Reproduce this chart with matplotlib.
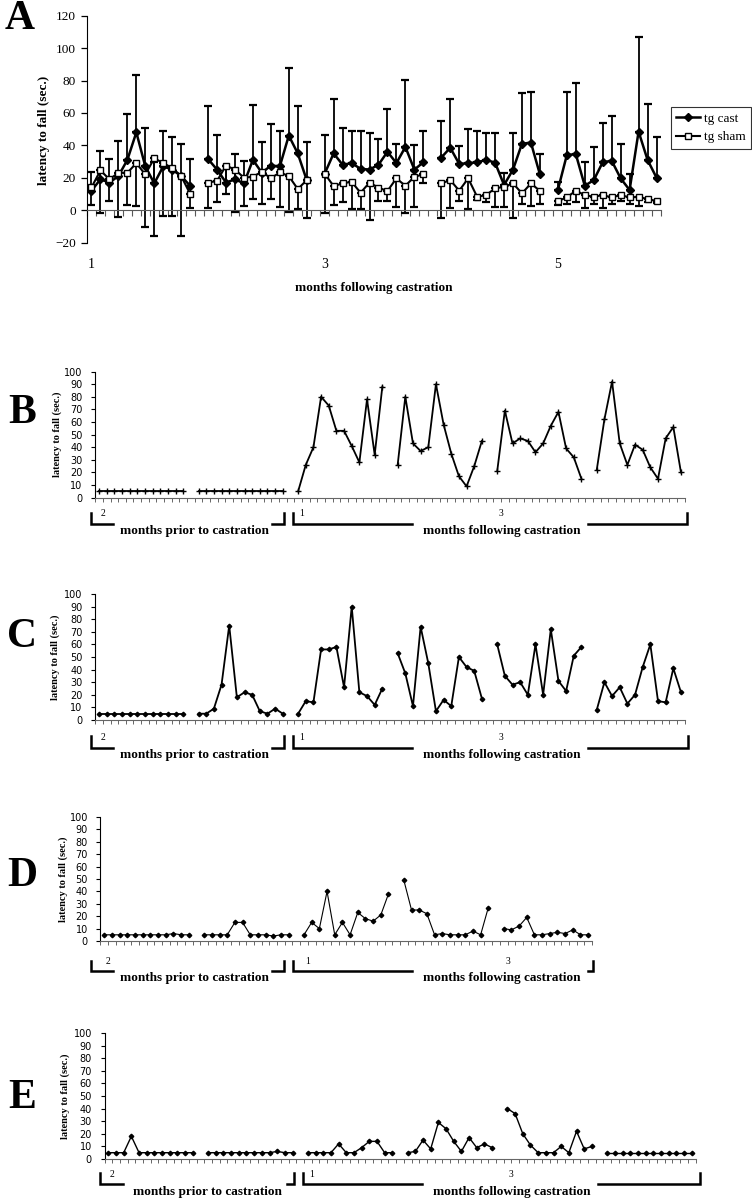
import numpy as np
import matplotlib
matplotlib.use('Agg')
import matplotlib.pyplot as plt
import matplotlib.transforms as mtransforms
from matplotlib.lines import Line2D

plt.rcParams['font.family'] = ['Liberation Serif', 'DejaVu Serif']

# ---- panel A: group means, 5 monthly blocks of 12 sessions ----
a_month_labels = ['1', '3', '5']
a_cast = [
    [12, 19, 17, 21, 31, 48, 27, 16.5, 27, 25, 21, 15],
    [31.5, 25, 17, 19, 16.5, 31, 23, 27.5, 27, 46, 35, 18.5],
    [22.5, 35, 28, 29, 25.5, 25, 28, 36, 29, 39, 25, 29.5],
    [32.4, 38.5, 28.5, 29, 29.5, 31, 29.3, 15.5, 25, 41, 41.6, 22],
    [12.4, 34, 34.6, 15, 18.5, 29.5, 30.5, 19.6, 12.4, 48.5, 31, 20],
]
a_cast_err = [
    [11.7, 17.7, 14.5, 21.7, 28.4, 35.5, 23.5, 13.5, 21.9, 20.4, 20, 16.5],
    [32.5, 21.4, 10, 15.6, 14, 34, 19.3, 25.5, 22, 42, 29.3, 23.5],
    [23.9, 33.5, 22.5, 20, 23.5, 22.8, 15.7, 26.5, 12, 41.4, 15, 19.5],
    [22.9, 30, 11.3, 21, 19.5, 16.4, 18.1, 7.2, 22.4, 31, 31.2, 12.4],
    [5.1, 38.6, 43.8, 14.5, 20.5, 24.5, 27.5, 21.4, 9.6, 58.1, 34.6, 25.4],
]
a_sham = [
    [14, 24.5, 19, 23, 23, 29, 22, 32, 29, 26, 21, 10],
    [17, 18, 27.5, 25, 20, 20.6, 23.7, 19.6, 23.3, 21, 13, 18.5],
    [22.5, 14.8, 16.5, 17.5, 10.7, 17, 13.8, 11.8, 19.6, 15, 20.6, 22],
    [16.5, 18.5, 12, 19.6, 8.2, 9.3, 13.4, 14.4, 16.5, 10.3, 16.5, 11.8],
    [5.6, 7.8, 12, 9.3, 8.2, 9.3, 7.8, 9.3, 7.8, 8.2, 6.8, 5.6],
]
a_sham_err = [
    [11, 26.5, 13.4, 27, 20, 26.3, 32.7, 48, 32.5, 29.5, 37, 8.6],
    [15.4, 13, 17.5, 26, 17.3, 13.8, 19.7, 12.8, 21.3, 22.4, 12.6, 23.5],
    [24.5, 11.8, 11.8, 17.1, 10.3, 23, 8.2, 6.2, 17.6, 17, 18.6, 5.5],
    [21.5, 17.1, 6.4, 19.2, 2.2, 4.3, 11.4, 12.4, 21.2, 6.3, 13.8, 7.8],
    [2.6, 4.1, 7, 7.7, 4.5, 7.7, 4.1, 3.5, 4.1, 5.5, 1.8, 1.1],
]

# ---- panels B-E: single mice, 2 blocks before and 3-4 blocks after castration ----
b_pre = [[5, 5, 5, 5, 5, 5, 5, 5, 5, 5, 5, 5],
         [5, 5, 5, 5, 5, 5, 5, 5, 5, 5, 5, 5]]
b_post = [[5, 26, 40, 80, 73, 53, 53, 41, 28, 78, 34, 88],
          [26, 80, 43, 37, 40, 90, 58, 35, 17, 9, 25, 45],
          [21, 69, 43, 47, 45, 36, 43, 57, 68, 39, 32, 15],
          [22, 62, 92, 43, 26, 42, 38, 24, 15, 47, 56, 20]]

c_pre = [[5, 5, 5, 5, 5, 5, 5, 5, 5, 5, 5, 5],
         [5, 5, 9, 28, 75, 18, 22, 20, 7, 5, 9, 5]]
c_post = [[5, 15, 14, 56, 56, 58, 26, 90, 22, 19, 12, 25],
          [53, 37, 11, 74, 45, 7, 16, 11, 50, 42, 39, 17],
          [60, 35, 28, 30, 20, 60, 20, 72, 31, 23, 51, 58],
          [8, 30, 19, 26, 13, 20, 42, 60, 15, 14, 41, 22]]

d_pre = [[5, 5, 5, 5, 5, 5, 5, 5, 5, 6, 5, 5],
         [5, 5, 5, 5, 15, 15, 5, 5, 5, 4, 5, 5]]
d_post = [[5, 15, 10, 40, 5, 15, 5, 23, 18, 16, 21, 38],
          [49, 25, 25, 22, 5, 6, 5, 5, 5, 8, 5, 27],
          [10, 9, 12, 19, 5, 5, 6, 7, 6, 9, 5, 5]]

e_pre = [[5, 5, 5, 18, 5, 5, 5, 5, 5, 5, 5, 5],
         [5, 5, 5, 5, 5, 5, 5, 5, 5, 6, 5, 5]]
e_post = [[5, 5, 5, 5, 12, 5, 5, 9, 14, 14, 5, 5],
          [5, 6, 15, 8, 29, 24, 14, 6, 17, 9, 12, 9],
          [40, 36, 20, 11, 5, 5, 5, 10, 5, 22, 8, 10],
          [5, 5, 5, 5, 5, 5, 5, 5, 5, 5, 5, 5]]

block_labels = ['2', '1', '3']   # drawn at slot 0, 26, 52
ylab = 'latency to fall (sec.)'

W, H = 752, 1200
BLOCK = 13  # 12 sessions + 1 empty slot


def box(l, t, r, b):
    return [l / W, 1 - b / H, (r - l) / W, (b - t) / H]


fig = plt.figure(figsize=(W / 100, H / 100), dpi=100)

# ---------------- panel A ----------------
axA = fig.add_axes(box(87, 15.7, 661, 242.5))
for k in range(len(a_cast)):
    x = np.arange(len(a_cast[k])) + BLOCK * k
    c = np.array(a_cast[k])
    s = np.array(a_sham[k])
    z = np.zeros(len(x))
    axA.errorbar(x, c, yerr=[z, a_cast_err[k]], fmt='none', ecolor='k',
                 elinewidth=1.3, capsize=3.2, capthick=1.6, zorder=2)
    axA.errorbar(x, s, yerr=[a_sham_err[k], z], fmt='none', ecolor='k',
                 elinewidth=1.3, capsize=3.2, capthick=1.6, zorder=2)
    axA.plot(x, c, '-D', color='k', ms=4.5, lw=1.8, zorder=3)
    axA.plot(x, s, '-s', color='k', mfc='white', mec='k', mew=1, ms=4.8,
             lw=1.5, zorder=4)

nA = BLOCK * len(a_cast) - 1
axA.set_xlim(-0.5, nA - 0.5)
axA.set_ylim(-20, 120)
axA.set_yticks(range(-20, 121, 20))
axA.set_xticks(np.arange(-0.5, nA, 1))
axA.set_xticklabels([])
axA.spines['bottom'].set_position(('data', 0))
axA.spines['bottom'].set_color('0.35')
axA.spines['top'].set_visible(False)
axA.spines['right'].set_visible(False)
axA.tick_params(axis='x', length=4, color='0.35', width=0.8)
axA.tick_params(axis='y', length=4, width=0.9, pad=4, labelsize=9.5)
transA = mtransforms.blended_transform_factory(axA.transData, fig.transFigure)
for i, lab in enumerate(a_month_labels):
    axA.text(2 * BLOCK * i, 1 - 264 / H, lab, transform=transA,
             ha='center', va='center', fontsize=10)
fig.text(374 / W, 1 - 288 / H, 'months following castration',
         ha='center', va='center', fontsize=9.5, fontweight='bold')
fig.text(44 / W, 1 - 130 / H, ylab, rotation=90, ha='center', va='center',
         fontsize=9.5, fontweight='bold')

handles = [Line2D([], [], color='k', marker='D', ms=4.5, lw=1.8),
           Line2D([], [], color='k', marker='s', mfc='white', ms=4.8, lw=1.5)]
leg = fig.legend(handles, ['tg cast', 'tg sham'], loc='upper left',
                 bbox_to_anchor=(671 / W, 1 - 107 / H), frameon=True,
                 fancybox=False, edgecolor='k', fontsize=9.5,
                 handlelength=1.8, handletextpad=0.3, borderpad=0.4,
                 labelspacing=0.5, borderaxespad=0)
leg.get_frame().set_linewidth(0.8)


# ---------------- panels B-E ----------------
def mouse_panel(rect, pre, post, marker, ms, lw):
    ax = fig.add_axes(rect)
    blocks = pre + post
    for k, vals in enumerate(blocks):
        x = np.arange(len(vals)) + BLOCK * k
        ax.plot(x, vals, color='k', lw=lw, marker=marker, ms=ms, mew=1.0)
    n = BLOCK * len(blocks) - 1
    ax.set_xlim(-0.5, n - 0.5)
    ax.set_ylim(0, 100)
    ax.set_yticks(range(0, 101, 10))
    ax.set_xticks(np.arange(-0.5, n, 1))
    ax.set_xticklabels([])
    for sp in ('top', 'right'):
        ax.spines[sp].set_visible(False)
    ax.spines['bottom'].set_color('0.4')
    ax.spines['left'].set_linewidth(0.8)
    ax.tick_params(axis='x', length=3, color='0.4', width=0.7)
    ax.tick_params(axis='y', length=3, width=0.8, pad=6, labelsize=7)
    for t in ax.get_yticklabels():
        t.set_fontfamily('DejaVu Sans')
    return ax


axB = mouse_panel(box(95.2, 371.5, 684.8, 497.7), b_pre, b_post, '+', 4, 1.3)
axC = mouse_panel(box(95.2, 594, 684.8, 720), c_pre, c_post, 'D', 2.3, 1.3)
axD = mouse_panel(box(100.5, 817, 592, 941), d_pre, d_post, 'D', 2.3, 0.8)
axE = mouse_panel(box(104.5, 1033, 695.5, 1159), e_pre, e_post, 'D', 2.3, 1.0)

# overlay in pixel coordinates for letters, labels and brackets
ov = fig.add_axes([0, 0, 1, 1], zorder=10)
ov.set_xlim(0, W)
ov.set_ylim(H, 0)
ov.axis('off')

for letter, (lx, ly) in zip('ABCDE', [(20, 19), (22, 413), (22, 637),
                                      (22, 876), (22, 1098)]):
    ov.text(lx, ly, letter, ha='center', va='center', fontsize=30,
            fontweight='bold')

# (axes, ylabel x, bracket top, bracket line, text y,
#  pre: left, gap start, gap end, right ; post: left, gap start, gap end, right)
panels = [
    (axB, 57, 512.5, 524, 531, (90.5, 113, 272, 283.5), (292.5, 412, 588, 687)),
    (axC, 55, 735.5, 748, 755, (90.5, 113, 272, 283.5), (292.5, 412, 588, 688)),
    (axD, 63, 960.5, 970.5, 978, (90.5, 113, 272, 284), (292.5, 412, 588, 592.7)),
    (axE, 65, 1173, 1184, 1192.5, (100, 123, 287, 293.5), (303, 422, 598, 700)),
]
for ax, yx, ytop, yline, ytext, pre_b, post_b in panels:
    bb = ax.get_position()
    yc = (1 - (bb.y0 + bb.y1) / 2) * H
    ov.text(yx, yc, ylab, rotation=90, ha='center', va='center',
            fontsize=7.5, fontweight='bold')
    for (x0, g0, g1, x1), txt in [(pre_b, 'months prior to castration'),
                                  (post_b, 'months following castration')]:
        ov.plot([x0, x0, g0], [ytop, yline, yline], color='k', lw=1.8,
                solid_joinstyle='miter')
        ov.plot([g1, x1, x1], [yline, yline, ytop], color='k', lw=1.8,
                solid_joinstyle='miter')
        ov.text((g0 + g1) / 2 + 2, ytext, txt, ha='center', va='center',
                fontsize=9.5, fontweight='bold')
    tr = mtransforms.blended_transform_factory(ax.transData, ov.transData)
    for i, lab in enumerate(block_labels):
        ov.text(2 * BLOCK * i + 0.2, ytop + 1.5, lab, transform=tr,
                ha='left', va='center', fontsize=7)

fig.savefig('out.png', dpi=100)
